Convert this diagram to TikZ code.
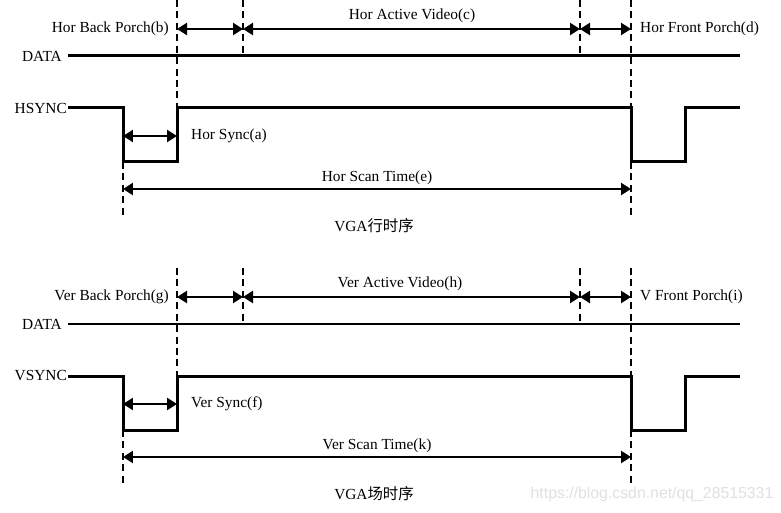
\documentclass[tikz,border=0pt]{standalone}
\usepackage{fontspec}
\setmainfont{Liberation Serif}
\newfontfamily\cjk{Noto Sans CJK SC}
\newfontfamily\wmfont{Liberation Sans}
\usetikzlibrary{arrows.meta}

\tikzset{
  wave/.style={line width=0.06cm},
  guide/.style={line width=0.7pt,dash pattern=on 4pt off 2.5pt},
  span/.style={line width=1.3pt,{Triangle[length=2mm,width=2.4mm]}-{Triangle[length=2mm,width=2.4mm]}},
}

\begin{document}
\begin{tikzpicture}[x=0.02cm,y=-0.02cm,every node/.style={font=\fontsize{8.75}{10}\selectfont}]
  \useasboundingbox (0,0) rectangle (781,513);

  \foreach \s/\dy/\sname/\bp/\av/\avx/\fp/\sy/\sc/\cn in {
      h/0/HSYNC/Hor Back Porch(b)/Hor Active Video(c)/412/Hor Front Porch(d)/Hor Sync(a)/Hor Scan Time(e)/行时序,
      v/268/VSYNC/Ver Back Porch(g)/Ver Active Video(h)/400/V Front Porch(i)/Ver Sync(f)/Ver Scan Time(k)/场时序} {
    \begin{scope}[shift={(0,\dy)}]

      % waveform corners
      \coordinate (\s-w1) at (123,108);
      \coordinate (\s-w2) at (123,162);
      \coordinate (\s-w3) at (177,162);
      \coordinate (\s-w4) at (177,108);
      \coordinate (\s-w5) at (631,108);
      \coordinate (\s-w6) at (631,162);
      \coordinate (\s-w7) at (685,162);
      \coordinate (\s-w8) at (685,108);
      \coordinate (\s-w9) at (740,108);
      \coordinate (\s-dend) at (740,56);

      \node[anchor=east] (\s-data) at (68,56) {DATA};
      \node[anchor=east,inner sep=0.5pt] (\s-sync) at (68,108) {\sname};

      \draw[wave] (\s-data.east) -- (\s-dend);
      \draw[wave] (\s-sync.east) -- (\s-w1) -- (\s-w2) -- (\s-w3) -- (\s-w4)
        -- (\s-w5) -- (\s-w6) -- (\s-w7) -- (\s-w8) -- (\s-w9);

      % dashed guides
      \coordinate (\s-t1) at (177,0);
      \coordinate (\s-t2) at (243,0);
      \coordinate (\s-t3) at (580,0);
      \coordinate (\s-t4) at (631,0);
      \coordinate (\s-m2) at (243,56);
      \coordinate (\s-m3) at (580,56);
      \coordinate (\s-b1) at (123,215);
      \coordinate (\s-b4) at (631,215);

      \draw[guide] (\s-t1) -- (\s-w4);
      \draw[guide] (\s-t2) -- (\s-m2);
      \draw[guide] (\s-t3) -- (\s-m3);
      \draw[guide] (\s-t4) -- (\s-w5);
      \draw[guide] (\s-w2) -- (\s-b1);
      \draw[guide] (\s-w6) -- (\s-b4);

      % spans
      \coordinate (\s-p1) at (177,29);
      \coordinate (\s-p2) at (243,29);
      \coordinate (\s-p3) at (580,29);
      \coordinate (\s-p4) at (631,29);
      \coordinate (\s-y1) at (123,136);
      \coordinate (\s-y2) at (177,136);
      \coordinate (\s-e1) at (123,189);
      \coordinate (\s-e2) at (631,189);

      \path (\s-p1) edge[span] (\s-p2)
            (\s-p2) edge[span] (\s-p3)
            (\s-p3) edge[span] (\s-p4);
      \path (\s-y1) edge[span] (\s-y2);
      \path (\s-e1) edge[span] node[above,inner sep=1.5pt] (\s-scan) {\sc} (\s-e2);

      % labels
      \node[anchor=east] (\s-back) at (175,29) {\bp};
      \node (\s-act) at (\avx,16) {\av};
      \node[anchor=west] (\s-front) at (634,29) {\fp};
      \node[anchor=west] (\s-width) at (185,136) {\sy};
      \node (\s-title) at (374,226) {VGA{\cjk\cn}};

    \end{scope}
  }

  \node[text=black!12,font=\wmfont\fontsize{9}{10}\selectfont] (mark) at (652,494) {https://blog.csdn.net/qq\_28515331};

\end{tikzpicture}
\end{document}
